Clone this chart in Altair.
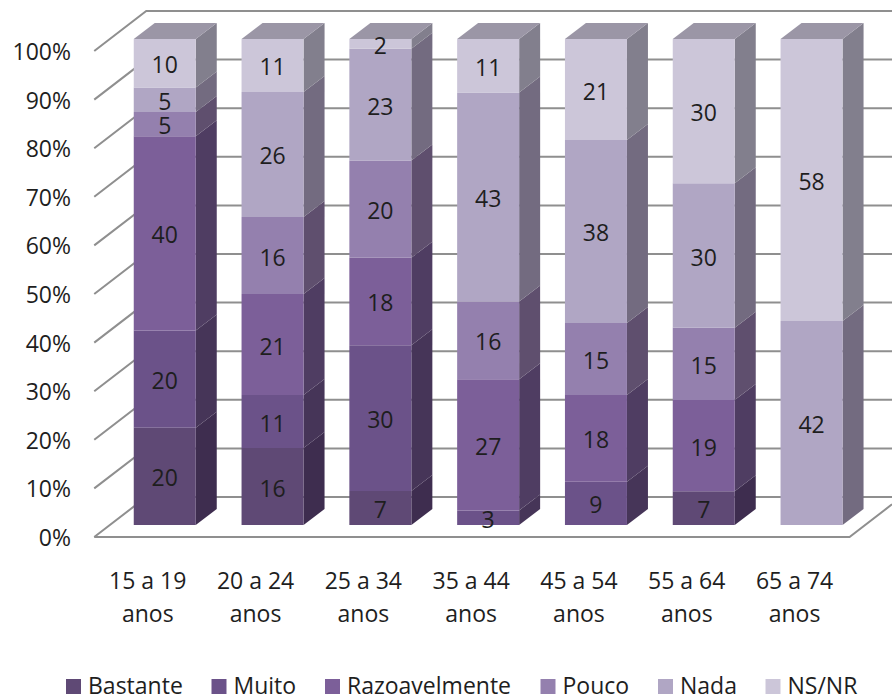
import altair as alt
import pandas as pd

# Share of answers per age group; each column is rescaled to 100 % when stacked
age_groups = ["15 a 19", "20 a 24", "25 a 34", "35 a 44", "45 a 54", "55 a 64", "65 a 74"]
series_names = ["Bastante", "Muito", "Razoavelmente", "Pouco", "Nada", "NS/NR"]
bastante = [20, 16, 7, 0, 0, 7, 0]
muito = [20, 11, 30, 3, 9, 0, 0]
razoavelmente = [40, 21, 18, 27, 18, 19, 0]
pouco = [5, 16, 20, 16, 15, 15, 0]
nada = [5, 26, 23, 43, 38, 30, 42]
ns_nr = [10, 11, 2, 11, 21, 30, 58]
series_values = [bastante, muito, razoavelmente, pouco, nada, ns_nr]

front_colors = ["#5F4975", "#6B5289", "#7C5F99", "#9480AE", "#B0A6C4", "#CCC6D9"]
side_colors = ["#3E2D4F", "#463558", "#4F3D62", "#5F4F6E", "#736B80", "#827F8D"]
top_color = "#9B96A6"
grid_color = "#8F8F8F"
text_color = "#1E1E1E"
font = "Open Sans"
font_size = 23

percent_ticks = list(range(0, 101, 10))

# Projection of the box: sizes in data units (columns on x, percent on y)
WIDTH, HEIGHT = 892, 697
PX_X, PX_Y = 107.8, 4.86            # pixels per column, pixels per percent
BAR_HALF = 31 / PX_X
BAR_DX, BAR_DY = 21 / PX_X, 16 / PX_Y   # depth of a column
AXIS_DX, AXIS_DY = -39.5 / PX_X, -12 / PX_Y  # front edge of the floor relative to the columns
WALL_DX, WALL_DY = 52 / PX_X, 40 / PX_Y      # floor depth
x_scale = alt.Scale(domain=[-164.75 / PX_X, (WIDTH - 164.75) / PX_X], nice=False, zero=False)
y_scale = alt.Scale(domain=[(525 - HEIGHT) / PX_Y, 525 / PX_Y], nice=False, zero=False)
X = alt.X("x:Q", scale=x_scale, axis=None)
Y = alt.Y("y:Q", scale=y_scale, axis=None)

# Stack the rescaled values
fronts, sides, tops, labels = [], [], [], []
for c, group in enumerate(age_groups):
    total = sum(s[c] for s in series_values)
    base = 0.0
    for k, name in enumerate(series_names):
        v = series_values[k][c]
        if v == 0:
            continue
        lo, hi = base, base + 100 * v / total
        base = hi
        l, r = c - BAR_HALF, c + BAR_HALF
        fronts.append({"x": l, "x2": r, "y": lo, "y2": hi, "serie": name})
        key = f"{c}-{k}"
        sides.append({"x": r, "y": lo, "y2": hi, "fill": side_colors[k], "key": key})
        sides.append({"x": r + BAR_DX, "y": lo + BAR_DY, "y2": hi + BAR_DY, "fill": side_colors[k], "key": key})
        labels.append({"x": c, "y": (lo + hi) / 2, "text": str(v)})
    l, r = c - BAR_HALF, c + BAR_HALF
    for px, py, py2 in [(l, 100, 100), (l + BAR_DX, 100, 100 + BAR_DY),
                        (r, 100, 100 + BAR_DY), (r + BAR_DX, 100 + BAR_DY, 100 + BAR_DY)]:
        tops.append({"x": px, "y": py, "y2": py2, "key": c})

# Wall grid: diagonal on the left wall, then along the back wall
x_left = -BAR_HALF + AXIS_DX
x_right_edge = (WIDTH - 164.75) / PX_X
grid = []
for t in percent_ticks:
    y0 = t + AXIS_DY
    grid.append({"x": x_left, "y": y0, "key": t, "o": 0})
    grid.append({"x": x_left + WALL_DX, "y": y0 + WALL_DY, "key": t, "o": 1})
    grid.append({"x": x_right_edge, "y": y0 + WALL_DY, "key": t, "o": 2})
# Floor outline along the front and up the right side
floor_right = 6 + BAR_HALF + 7 / PX_X
floor = [
    {"x": x_left, "y": AXIS_DY, "o": 0},
    {"x": floor_right, "y": AXIS_DY, "o": 1},
    {"x": x_right_edge, "y": AXIS_DY + (x_right_edge - floor_right) * PX_X / 52 * WALL_DY, "o": 2},
]

y_ticks = [{"x": (71 - 164.75) / PX_X, "y": t + AXIS_DY, "text": f"{t}%"} for t in percent_ticks]
cat_first = [{"x": c - 17 / PX_X, "y": (525 - 580) / PX_Y, "text": g} for c, g in enumerate(age_groups)]
cat_second = [{"x": c - 17 / PX_X, "y": (525 - 613) / PX_Y, "text": "anos"} for c, g in enumerate(age_groups)]

grid_layer = alt.Chart(pd.DataFrame(grid)).mark_line(color=grid_color, strokeWidth=2).encode(
    x=X, y=Y, detail="key:N", order="o:Q")
floor_layer = alt.Chart(pd.DataFrame(floor)).mark_line(color=grid_color, strokeWidth=2).encode(
    x=X, y=Y, order="o:Q")
side_layer = alt.Chart(pd.DataFrame(sides)).mark_area(interpolate="linear").encode(
    x=X, y=Y, y2="y2:Q", detail="key:N", color=alt.Color("fill:N", scale=None))
top_layer = alt.Chart(pd.DataFrame(tops)).mark_area(interpolate="linear", color=top_color).encode(
    x=X, y=Y, y2="y2:Q", detail="key:N")
front_layer = alt.Chart(pd.DataFrame(fronts)).mark_rect().encode(
    x=X, x2="x2:Q", y=Y, y2="y2:Q",
    color=alt.Color(
        "serie:N",
        scale=alt.Scale(domain=series_names, range=front_colors),
        legend=alt.Legend(
            title=None, orient="none", legendX=62, legendY=675, direction="horizontal",
            columns=6, gridAlign="none", symbolType="square", symbolSize=225,
            symbolStrokeWidth=0, labelFont=font, labelFontSize=font_size, labelColor=text_color,
            labelOffset=3, columnPadding=24.5, labelLimit=300, padding=0,
        ),
    ),
)


def text_layer(rows, align="center", dy=0):
    return alt.Chart(pd.DataFrame(rows)).mark_text(
        font=font, fontSize=font_size, color=text_color, align=align, baseline="middle", dy=dy
    ).encode(x=X, y=Y, text="text:N")


chart = alt.layer(
    grid_layer,
    floor_layer,
    side_layer,
    top_layer,
    front_layer,
    text_layer(labels, dy=3),
    text_layer(y_ticks, align="right", dy=2),
    text_layer(cat_first, dy=2),
    text_layer(cat_second, dy=2),
).properties(
    width=WIDTH,
    height=HEIGHT,
    padding=0,
    autosize=alt.AutoSizeParams(type="none"),
    background="white",
).configure_view(stroke=None)

chart.save("out.html", embed_options={"renderer": "svg", "actions": False})
